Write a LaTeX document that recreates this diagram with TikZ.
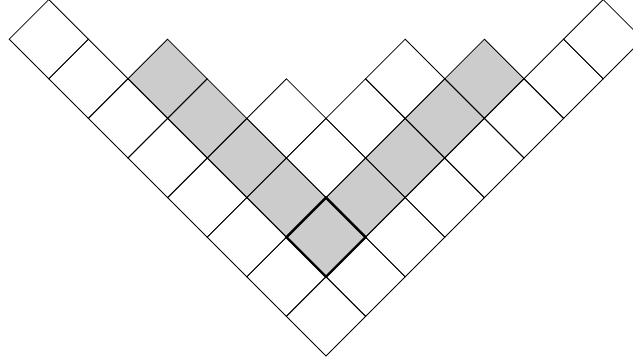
\documentclass[tikz,border=0pt]{standalone}
\usepackage{tikz}

\begin{document}
\begin{tikzpicture}[
        x={(39.6pt,39.6pt)}, y={(-39.6pt,39.6pt)},
        box/.style={draw, line width=0.8pt},
        hook/.style={fill=black!20},
        marked/.style={draw, line width=2.4pt}
        ]
    \useasboundingbox (-326pt,-6pt) rectangle (307pt,356pt);

    % shaded hook of the box (1,1)
    \foreach \r in {1,...,5}
        \fill[hook] (1,\r) -- ++(1,0) -- ++(0,1) -- ++(-1,0) -- cycle;
    \foreach \c in {2,...,5}
        \fill[hook] (\c,1) -- ++(1,0) -- ++(0,1) -- ++(-1,0) -- cycle;

    % boxes of the diagram, column by column
    \foreach \len [count=\c from 0] in {8,6,4,3,3,2,1,1}
        \foreach \r in {1,...,\len}
            \draw[box] (\c,\r-1) -- ++(1,0) -- ++(0,1) -- ++(-1,0) -- cycle;

    \draw[marked] (1,1) -- ++(1,0) -- ++(0,1) -- ++(-1,0) -- cycle;
\end{tikzpicture}
\end{document}
